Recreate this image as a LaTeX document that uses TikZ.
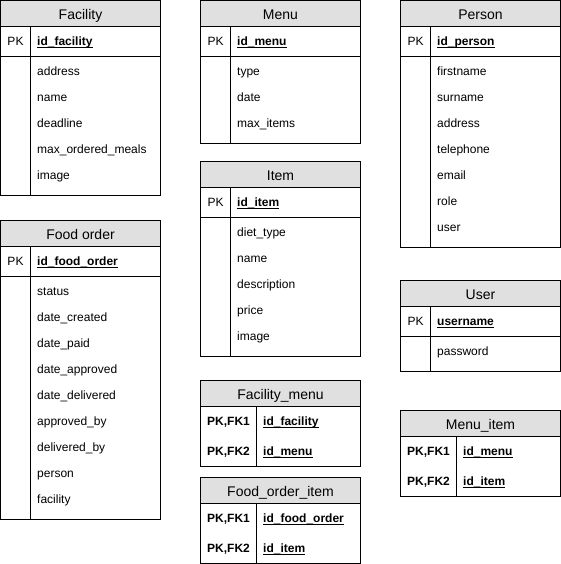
\documentclass[tikz,border=0pt]{standalone}
\usepackage{fontspec}
\setmainfont{Liberation Sans}
\definecolor{titlegray}{HTML}{E0E0E0}
\definecolor{erline}{HTML}{000000}
\tikzset{
  tableline/.style={draw=erline, line width=1pt},
  titlebar/.style={fill=titlegray, draw=erline, line width=1pt},
  titletext/.style={anchor=base, inner sep=0pt, font=\fontsize{14pt}{16pt}\selectfont},
  fieldtext/.style={anchor=base west, inner sep=0pt, font=\fontsize{12pt}{14pt}\selectfont},
  keylabel/.style={anchor=base, inner sep=0pt, font=\fontsize{12pt}{14pt}\selectfont},
  fklabel/.style={anchor=base, inner sep=0pt, font=\fontsize{12pt}{14pt}\selectfont\bfseries},
}
\newcommand{\keyfield}[1]{\underline{\smash{\textbf{#1}}}}
% #1 id, #2 x, #3 y, #4 title, #5 primary key, #6 fields, #7 number of fields
\newcommand{\ertable}[7]{%
  \begin{scope}[shift={(#2,#3)}]
    \path[titlebar] (0,0) rectangle (160,26);
    \node[titletext] (#1-title) at (80,18.8) {#4};
    \draw[tableline] (0,26) rectangle (160,{56+26*#7+9});
    \draw[tableline] (0,56) -- (160,56);
    \draw[tableline] (30,26) -- (30,{56+26*#7+9});
    \node[keylabel] (#1-pklabel) at (15,45.2) {PK};
    \node[fieldtext] (#1-pk) at (36.5,45.2) {\keyfield{#5}};
    \foreach \f [count=\i] in {#6} {
      \node[fieldtext] (#1-f\i) at (36.5,{56+14+5+26*(\i-1)}) {\f};
    }
  \end{scope}}
% #1 id, #2 x, #3 y, #4 title, #5 key 1, #6 key 2
\newcommand{\linktable}[6]{%
  \begin{scope}[shift={(#2,#3)}]
    \path[titlebar] (0,0) rectangle (160,26);
    \node[titletext] (#1-title) at (80,18.8) {#4};
    \draw[tableline] (0,26) rectangle (160,86);
    \draw[tableline] (56,26) -- (56,86);
    \node[fklabel] (#1-l1) at (28,45.2) {PK,FK1};
    \node[fklabel] (#1-l2) at (28,75.2) {PK,FK2};
    \node[fieldtext] (#1-k1) at (62.5,45.2) {\keyfield{#5}};
    \node[fieldtext] (#1-k2) at (62.5,75.2) {\keyfield{#6}};
  \end{scope}}
\begin{document}
\begin{tikzpicture}[x=1pt,y=-1pt]
\useasboundingbox (0,0) rectangle (561,564);
\fill[white] (0,0) rectangle (561,564);
\ertable{facility}{0.5}{0.5}{Facility}{id\_facility}{address,name,deadline,max\_ordered\_meals,image}{5}
\ertable{foodorder}{0.5}{220.5}{Food order}{id\_food\_order}{status,date\_created,date\_paid,date\_approved,date\_delivered,approved\_by,delivered\_by,person,facility}{9}
\ertable{menu}{200.5}{0.5}{Menu}{id\_menu}{type,date,max\_items}{3}
\ertable{item}{200.5}{161.5}{Item}{id\_item}{diet\_type,name,description,price,image}{5}
\ertable{person}{400.5}{0.5}{Person}{id\_person}{firstname,surname,address,telephone,email,role,user}{7}
\ertable{user}{400.5}{280.5}{User}{username}{password}{1}
\linktable{facilitymenu}{200.5}{380.5}{Facility\_menu}{id\_facility}{id\_menu}
\linktable{foodorderitem}{200.5}{477.5}{Food\_order\_item}{id\_food\_order}{id\_item}
\linktable{menuitem}{400.5}{410.5}{Menu\_item}{id\_menu}{id\_item}
\end{tikzpicture}
\end{document}
